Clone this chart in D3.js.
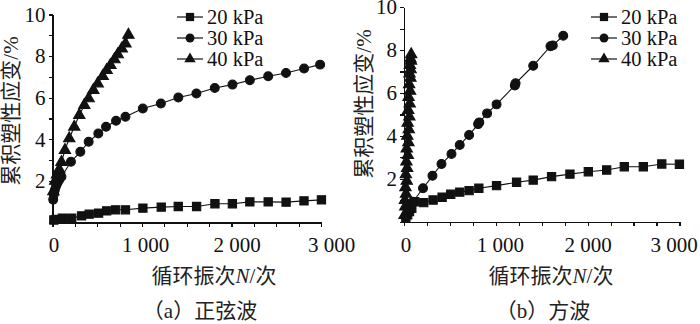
<!DOCTYPE html>
<meta charset="utf-8">
<style>
    body { margin: 0; background: #fff; }
    svg { display: block; }
    .axis text { font: 21px "Liberation Serif", "Times New Roman", serif; fill: #111; }
    .axis path, .axis line { fill: none; stroke: #111; stroke-width: 1.2px; shape-rendering: crispEdges; }
    .legend text { font: 20.5px "Liberation Serif", serif; fill: #111; }
    .title { font-family: "Liberation Serif", "Noto Sans CJK SC", serif; font-size: 21px; fill: #222; }
    .series path { fill: none; stroke: #111; stroke-width: 1.1px; }
    .series .mk { fill: #111; }
</style>
<svg class="chart"></svg>
<script src="https://cdn.jsdelivr.net/npm/d3@7"></script>
<script>

    // ---- data ----
    var seriesNames = ["20 kPa", "30 kPa", "40 kPa"];
    var xTickLabels = ["0", "1 000", "2 000", "3 000"];
    var yTickLabels = ["2", "4", "6", "8", "10"];

    // (a) sine wave
    var sineN20 = [0, 15, 40, 110, 215, 325, 410, 515, 605, 705, 815, 1010, 1215, 1405, 1610, 1815, 2010, 2205, 2410, 2610, 2810, 3005];
    var sineV20 = [0, 0.12, 0.15, 0.21, 0.21, 0.32, 0.40, 0.45, 0.56, 0.61, 0.61, 0.69, 0.74, 0.77, 0.77, 0.90, 0.90, 0.99, 0.99, 0.98, 1.04, 1.09];
    var sineN30 = [0, 8, 15, 25, 40, 55, 75, 100, 206, 311, 404, 512, 598, 710, 815, 1009, 1211, 1406, 1608, 1813, 2011, 2205, 2410, 2609, 2811, 2990];
    var sineV30 = [0, 1.1, 1.35, 1.55, 1.75, 1.9, 2.05, 2.2, 2.92, 3.40, 3.88, 4.28, 4.60, 4.89, 5.08, 5.48, 5.72, 6.01, 6.20, 6.47, 6.63, 6.84, 7.03, 7.19, 7.40, 7.59];
    var sineN40 = [0, 10, 30, 50, 75, 100, 139, 187, 243, 299, 355, 404, 456, 505, 561, 605, 647, 692, 729, 774, 815, 848];
    var sineV40 = [0, 1.5, 2.0, 2.3, 2.55, 2.9, 3.48, 4.04, 4.6, 5.16, 5.64, 5.96, 6.36, 6.68, 7.03, 7.32, 7.56, 7.84, 8.08, 8.36, 8.60, 9.02];

    // (b) square wave
    var sqN20 = [0, 20, 40, 60, 85, 117, 215, 317, 415, 509, 607, 709, 815, 1008, 1226, 1407, 1607, 1807, 2007, 2207, 2399, 2606, 2807, 2999];
    var sqV20 = [0, 0.18, 0.32, 0.47, 0.62, 0.93, 0.89, 1.01, 1.14, 1.28, 1.38, 1.45, 1.56, 1.68, 1.84, 1.94, 2.10, 2.22, 2.33, 2.41, 2.56, 2.56, 2.69, 2.68];
    var sqN30 = [0, 20, 40, 60, 98, 207, 310, 408, 517, 607, 709, 807, 820, 905, 1008, 1207, 1215, 1407, 1595, 1620, 1734];
    var sqV30 = [0, 0.28, 0.45, 0.6, 0.93, 1.56, 2.14, 2.69, 3.16, 3.58, 4.04, 4.55, 4.63, 5.05, 5.47, 6.35, 6.45, 7.27, 8.18, 8.22, 8.67];
    var sqN40 = [0, 6, 14, 10, 22, 16, 30, 20, 34, 26, 42, 30, 48, 36, 52, 40, 58, 46, 62, 50, 66, 56, 70, 60, 72, 64, 76, 70, 78];
    var sqV40 = [0, 0.3, 0.7, 1.0, 1.3, 1.6, 1.9, 2.2, 2.5, 2.8, 3.1, 3.4, 3.7, 4.0, 4.3, 4.6, 4.9, 5.2, 5.5, 5.8, 6.1, 6.4, 6.7, 6.9, 7.1, 7.3, 7.5, 7.6, 7.8];

    var panels = [
        {
            x0: 52.5, x1: 321, y0: 222.5, y1: 14.5,
            series: [[sineN20, sineV20], [sineN30, sineV30], [sineN40, sineV40]],
            labelShift: [1, 3, 5, 10],
            legendX: 177, yTitle: [11, 111], xTitleX: 214, subX: 200, subY: 311, sub: "（a）正弦波"
        },
        {
            x0: 404, x1: 679.5, y0: 221.7, y1: 7.2,
            series: [[sqN20, sqV20], [sqN30, sqV30], [sqN40, sqV40]],
            labelShift: [1.5, 4, 0, -6],
            legendX: 591, yTitle: [364, 104], xTitleX: 551, subX: 543, subY: 311, sub: "（b）方波"
        }
    ];

    var width = 700, height = 324;
    var svg = d3.select(".chart").attr("width", width).attr("height", height);

    var symbols = [d3.symbolSquare, d3.symbolCircle, d3.symbolTriangle];
    var symSize = [68, 62, 56];

    panels.forEach(function (p) {
        var x = d3.scaleLinear().domain([0, 3000]).range([p.x0, p.x1]);
        var y = d3.scaleLinear().domain([0, 10]).range([p.y0, p.y1]);

        var xAxis = d3.axisBottom(x)
            .tickValues(d3.range(0, 3001, 250))
            .tickSize(4).tickSizeOuter(0).tickPadding(6)
            .tickFormat(function (d) { return d % 1000 === 0 ? xTickLabels[d / 1000] : ""; });

        var yAxis = d3.axisLeft(y)
            .tickValues(d3.range(0, 11, 1))
            .tickSize(4).tickSizeOuter(0).tickPadding(3)
            .tickFormat(function (d) { return (d > 0 && d % 2 === 0) ? yTickLabels[d / 2 - 1] : ""; });

        svg.append("g").attr("class", "x axis")
            .attr("transform", "translate(0," + p.y0 + ")")
            .call(xAxis)
            .selectAll("text")
            .attr("dy", "0.95em")
            .attr("dx", function (d) { return d % 1000 === 0 ? p.labelShift[d / 1000] : 0; });

        svg.append("g").attr("class", "y axis")
            .attr("transform", "translate(" + p.x0 + ",0)")
            .call(yAxis);

        var line = d3.line().x(function (d) { return x(d[0]); }).y(function (d) { return y(d[1]); });

        p.series.forEach(function (s, i) {
            var pts = s[0].map(function (n, k) { return [n, s[1][k]]; });
            var g = svg.append("g").attr("class", "series");
            g.append("path").attr("d", line(pts));
            g.selectAll(".mk").data(pts.slice(1)).enter().append("path")
                .attr("class", "mk")
                .attr("d", d3.symbol().type(symbols[i]).size(symSize[i]))
                .attr("transform", function (d) { return "translate(" + x(d[0]) + "," + y(d[1]) + ")"; });
        });

        // legend
        var lg = svg.append("g").attr("class", "legend");
        seriesNames.forEach(function (name, i) {
            var ly = 17 + i * 21;
            lg.append("line").attr("x1", p.legendX).attr("x2", p.legendX + 26)
                .attr("y1", ly).attr("y2", ly).attr("stroke", "#111").attr("stroke-width", 1.2);
            lg.append("path")
                .attr("d", d3.symbol().type(symbols[i]).size(symSize[i]))
                .attr("transform", "translate(" + (p.legendX + 13) + "," + ly + ")")
                .attr("fill", "#111");
            lg.append("text").attr("x", p.legendX + 30).attr("y", ly).attr("dy", "0.33em").text(name);
        });

        // titles
        svg.append("text").attr("class", "title")
            .attr("transform", "translate(" + p.yTitle[0] + "," + p.yTitle[1] + ") rotate(-90)")
            .attr("text-anchor", "middle").attr("dy", "0.35em")
            .text("累积塑性应变/%");

        var xt = svg.append("text").attr("class", "title")
            .attr("x", p.xTitleX).attr("y", 276).attr("dy", "0.35em")
            .attr("text-anchor", "middle");
        xt.append("tspan").text("循环振次");
        xt.append("tspan").attr("font-style", "italic").text("N");
        xt.append("tspan").text("/次");

        svg.append("text").attr("class", "title")
            .attr("x", p.subX).attr("y", p.subY).attr("dy", "0.35em")
            .attr("text-anchor", "middle").attr("font-size", "20px")
            .text(p.sub);
    });

</script>
